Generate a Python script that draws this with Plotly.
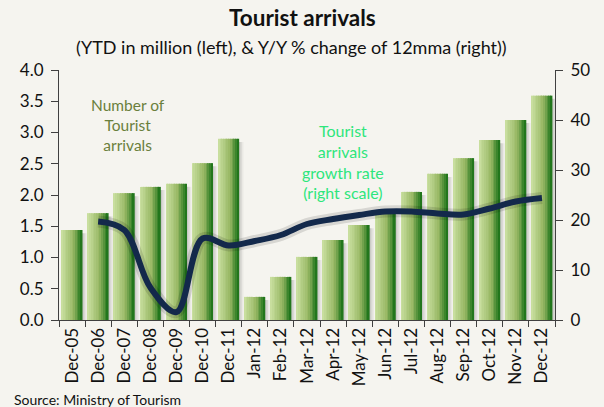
import plotly.graph_objects as go

categories = ["Dec-05", "Dec-06", "Dec-07", "Dec-08", "Dec-09", "Dec-10", "Dec-11",
              "Jan-12", "Feb-12", "Mar-12", "Apr-12", "May-12", "Jun-12", "Jul-12",
              "Aug-12", "Sep-12", "Oct-12", "Nov-12", "Dec-12"]
arrivals = [1.44, 1.71, 2.03, 2.13, 2.18, 2.51, 2.90,
            0.37, 0.69, 1.01, 1.28, 1.52, 1.74, 2.05,
            2.34, 2.59, 2.88, 3.20, 3.59]
growth_cats = categories[1:]
growth = [19.7, 18.0, 6.5, 1.6, 16.3, 14.9, 15.8, 17.0, 19.2, 20.2,
          21.0, 21.7, 21.7, 21.3, 21.1, 22.3, 23.7, 24.4]

left_ticks = [0, 0.5, 1, 1.5, 2, 2.5, 3, 3.5, 4]
right_ticks = [0, 10, 20, 30, 40, 50]

BG = "#f5f4ef"
fig = go.Figure()

bar_w = 0.79
# soft shadow behind bars
for dx, a in [(0.17, 0.06), (0.11, 0.09), (0.05, 0.10)]:
    fig.add_trace(go.Bar(x=categories, y=[v - 0.05 for v in arrivals], yaxis="y",
                         width=bar_w, offset=-bar_w / 2 + dx,
                         marker=dict(color=f"rgba(60,60,60,{a})", line=dict(width=0)),
                         hoverinfo="skip", showlegend=False))

# horizontal gradient via strips
n = 12
c0 = (200, 222, 158)
c1 = (150, 182, 98)
c2 = (34, 118, 28)
sw = bar_w / n
for i in range(n):
    t = i / (n - 1)
    if t < 0.6:
        u = t / 0.6
        c = tuple(round(c0[j] + (c1[j] - c0[j]) * u) for j in range(3))
    else:
        u = (t - 0.6) / 0.4
        c = tuple(round(c1[j] + (c2[j] - c1[j]) * u) for j in range(3))
    fig.add_trace(go.Bar(x=categories, y=arrivals, yaxis="y",
                         width=sw * 1.08, offset=-bar_w / 2 + i * sw,
                         marker=dict(color=f"rgb{c}", line=dict(width=0)),
                         hoverinfo="skip", showlegend=False))

# growth line with halo shadow
fig.add_trace(go.Scatter(x=growth_cats, y=growth, yaxis="y2", mode="lines",
                         line=dict(color="rgba(0,0,0,0.12)", width=12, shape="spline", smoothing=1.0),
                         hoverinfo="skip", showlegend=False))
fig.add_trace(go.Scatter(x=growth_cats, y=growth, yaxis="y2", mode="lines",
                         line=dict(color="#13294b", width=6, shape="spline", smoothing=1.0),
                         hoverinfo="skip", showlegend=False))

tickfont = dict(family="Lato", size=17, color="#111111")
axcommon = dict(showline=True, linecolor="#404040", linewidth=1, ticks="outside",
                tickcolor="#404040", showgrid=False, zeroline=False, automargin=False)
fig.update_layout(
    width=604, height=407,
    margin=dict(l=59, r=49, t=70, b=87),
    paper_bgcolor=BG, plot_bgcolor=BG,
    barmode="overlay", showlegend=False,
    xaxis=dict(type="category", categoryarray=categories, range=[-0.5, 18.5],
               tickson="boundaries", ticklen=6, tickangle=-90, tickfont=tickfont, **axcommon),
    yaxis=dict(range=[0, 4], tickvals=left_ticks, tickformat=".1f", ticklen=7,
               ticklabelstandoff=4, tickfont=tickfont, **axcommon),
    yaxis2=dict(range=[0, 50], tickvals=right_ticks, overlaying="y", side="right", ticklen=7,
                ticklabelstandoff=4, tickfont=tickfont, **axcommon),
    annotations=[
        dict(text="<b>Tourist arrivals</b>", xref="paper", yref="paper", x=0.49, y=1.21,
             showarrow=False, font=dict(family="Lato", size=22.5, color="#111111"),
             xanchor="center", yanchor="middle"),
        dict(text="(YTD in million (left), & Y/Y % change of 12mma (right))", xref="paper", yref="paper",
             x=0.468, y=1.09, showarrow=False, font=dict(family="Lato", size=18, color="#111111"),
             xanchor="center", yanchor="middle"),
        dict(text="Number of<br>Tourist<br>arrivals", xref="paper", yref="paper", x=0.139, y=0.782,
             showarrow=False, font=dict(family="Lato", size=15.5, color="#6a7f3c"),
             xanchor="center", yanchor="middle"),
        dict(text="Tourist<br>arrivals<br>growth rate<br>(right scale)", xref="paper", yref="paper",
             x=0.573, y=0.634, showarrow=False, font=dict(family="Lato", size=16, color="#2ee67c"),
             xanchor="center", yanchor="middle"),
        dict(text="Source: Ministry of Tourism", xref="paper", yref="paper", x=-0.095, y=-0.316,
             showarrow=False, font=dict(family="Lato", size=14, color="#111111"),
             xanchor="left", yanchor="middle"),
    ],
)

fig.write_html("out.html", config={"displayModeBar": False},
               post_script="document.body.style.margin='0px';document.body.style.padding='0px';"
                           "document.body.style.overflow='hidden';")
